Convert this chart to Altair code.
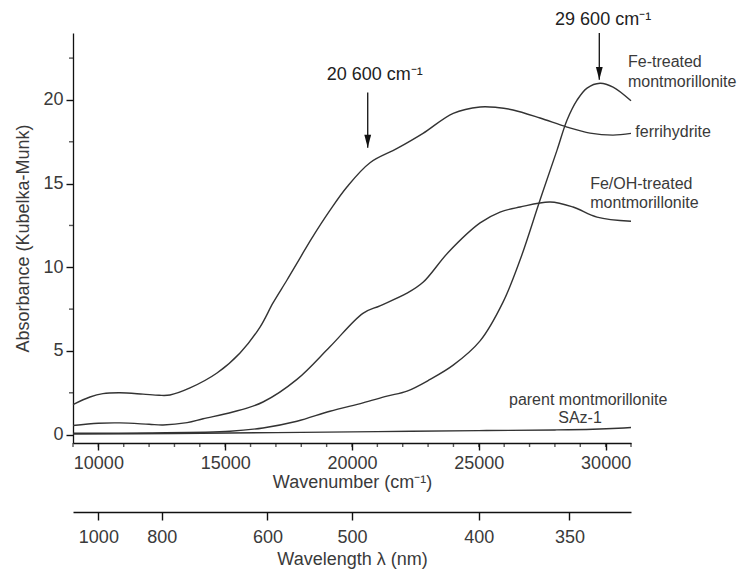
import altair as alt
import pandas as pd

# ---------------- data ----------------
ferri_wn = [9000, 9670, 10180, 10850, 11760, 12400, 12825, 13613, 14678, 15585, 16374, 16886,
            17438, 17950, 18400, 19130, 19800, 20710, 21780, 22800, 23990, 25050, 25720, 26350,
            27414, 28479, 29385, 30293, 31000]
ferri_abs = [1.8, 2.25, 2.45, 2.5, 2.42, 2.35, 2.37, 2.79, 3.68, 4.88, 6.43, 7.87,
             9.24, 10.55, 11.7, 13.4, 14.8, 16.25, 17.1, 18.0, 19.2, 19.58, 19.55, 19.4,
             18.92, 18.38, 18.02, 17.9, 18.0]

feoh_wn = [9000, 10000, 10850, 12000, 12550, 13500, 14130, 15300, 16490, 17830, 19130, 20430,
           21100, 22170, 22800, 23800, 25050, 25836, 26625, 27808, 28715, 29661, 31000]
feoh_abs = [0.55, 0.68, 0.7, 0.62, 0.58, 0.72, 0.95, 1.35, 1.95, 3.3, 5.25, 7.25,
            7.7, 8.45, 9.1, 10.9, 12.65, 13.3, 13.6, 13.9, 13.6, 13.0, 12.75]

fe_wn = [9000, 12000, 15190, 16490, 17830, 19130, 20430, 21380, 22170, 23080, 23990, 25050,
         25950, 26625, 27414, 28084, 28479, 28873, 29267, 29780, 30293, 31000]
fe_abs = [0.08, 0.1, 0.2, 0.4, 0.8, 1.4, 1.9, 2.3, 2.6, 3.3, 4.15, 5.6,
          7.9, 10.43, 14.02, 17.0, 18.8, 19.99, 20.71, 21.0, 20.77, 19.95]

parent_wn = [9000, 13000, 17000, 21000, 25000, 28000, 29500, 30500, 31000]
parent_abs = [0.03, 0.07, 0.12, 0.18, 0.24, 0.28, 0.32, 0.38, 0.43]

series_names = ["ferrihydrite", "Fe/OH-treated montmorillonite",
                "Fe-treated montmorillonite", "parent montmorillonite SAz-1"]

# axis ticks
x_major = [10000, 15000, 20000, 25000, 30000]
x_minor = list(range(9000, 31001, 1000))
y_major = [0, 5, 10, 15, 20]
y_minor = [2.5, 7.5, 12.5, 17.5, 22.5]

# wavelength axis labels (nm)
wavelengths_nm = [1000, 800, 600, 500, 400, 350]

# annotation arrows (wavenumber, top, tip)
arrow_x = [20620, 29750]
arrow_top = [20.45, 24.0]
arrow_tip = [17.15, 21.2]

# annotation texts
left_text = ["Fe-treated", "montmorillonite", "ferrihydrite", "Fe/OH-treated", "montmorillonite"]
left_x = [30880, 30880, 31170, 29390, 29390]
left_y = [22.27, 21.07, 18.08, 14.98, 13.84]

center_text = ["parent montmorillonite", "SAz-1"]
center_x = [29310, 28990]
center_y = [2.07, 0.99]

peak_text = ["20 600 cm\u207b\u00b9", "29 600 cm\u207b\u00b9"]
peak_x = [20900, 29900]
peak_y = [21.5, 24.78]

# ---------------- build tables ----------------
rows = []
for name, wn, ab in zip(series_names, [ferri_wn, feoh_wn, fe_wn, parent_wn],
                        [ferri_abs, feoh_abs, fe_abs, parent_abs]):
    for w, a in zip(wn, ab):
        rows.append({"series": name, "wn": w, "abs": a})
df = pd.DataFrame(rows)

arrows_df = pd.DataFrame({"x": arrow_x, "y": arrow_top, "y2": arrow_tip})
left_df = pd.DataFrame({"x": left_x, "y": left_y, "t": left_text})
center_df = pd.DataFrame({"x": center_x, "y": center_y, "t": center_text})
peak_df = pd.DataFrame({"x": peak_x, "y": peak_y, "t": peak_text})
wl_df = pd.DataFrame({"pos": [1e7 / l for l in wavelengths_nm]})
xminor_df = pd.DataFrame({"v": x_minor, "y0": [-0.5] * len(x_minor)})
yminor_df = pd.DataFrame({"v": y_minor, "x0": [9000] * len(y_minor)})

FONT = "Liberation Sans"
INK = "#333333"
TXT = "#3a3a3a"
AX = "#111111"
W, H = 558, 410

x_scale = alt.Scale(domain=[9000, 31000], nice=False, zero=False)
y_scale = alt.Scale(domain=[-0.5, 24], nice=False, zero=False)

common = dict(grid=False, labelOverlap=False, labelFlush=False,
              domainColor=AX, tickColor=AX, domainWidth=1.3, tickWidth=1.4,
              labelFont=FONT, labelFontSize=18, labelColor=TXT,
              titleFont=FONT, titleFontSize=18, titleFontWeight="normal", titleColor=TXT)

x_axis = alt.Axis(orient="bottom", values=x_major, format="d", tickSize=7,
                  title="Wavenumber (cm\u207b\u00b9)", labelPadding=4, titlePadding=1, **common)
y_axis = alt.Axis(orient="left", values=y_major, format="d", tickSize=7,
                  title="Absorbance (Kubelka-Munk)", labelPadding=3, titlePadding=10, **common)
wl_axis = alt.Axis(orient="bottom", offset=69, values=[1e7 / l for l in wavelengths_nm],
                   title="Wavelength \u03bb (nm)",
                   labelExpr="format(round(1e7 / datum.value), 'd')",
                   tickSize=8, labelPadding=8, titlePadding=4, **common)

lines = alt.Chart(df).mark_line(interpolate="catmull-rom", color=INK, strokeWidth=1.4).encode(
    x=alt.X("wn:Q", scale=x_scale, axis=x_axis),
    y=alt.Y("abs:Q", scale=y_scale, axis=y_axis),
    detail="series:N",
)

wl_layer = alt.Chart(wl_df).mark_point(opacity=0).encode(
    x=alt.X("pos:Q", scale=x_scale, axis=wl_axis),
    y=alt.value(0),
)

# minor ticks: short tick marks sitting just outside the axis lines
xminor_layer = alt.Chart(xminor_df).mark_tick(
    color=AX, thickness=1.4, size=4, orient="vertical", yOffset=2
).encode(
    x=alt.X("v:Q", scale=x_scale, axis=None),
    y=alt.Y("y0:Q", scale=y_scale, axis=None),
)
yminor_layer = alt.Chart(yminor_df).mark_tick(
    color=AX, thickness=1.4, size=4, orient="horizontal", xOffset=-2
).encode(
    y=alt.Y("v:Q", scale=y_scale, axis=None),
    x=alt.X("x0:Q", scale=x_scale, axis=None),
)

arrow_rules = alt.Chart(arrows_df).mark_rule(color=AX, strokeWidth=1.3).encode(
    x=alt.X("x:Q", scale=x_scale, axis=None),
    y=alt.Y("y:Q", scale=y_scale, axis=None),
    y2="y2:Q",
)
arrow_heads = alt.Chart(arrows_df).mark_point(
    shape="M -0.38 -1.45 L 0.38 -1.45 L 0 0 Z", filled=True, color=AX, opacity=1, size=320
).encode(
    x=alt.X("x:Q", scale=x_scale, axis=None),
    y=alt.Y("y2:Q", scale=y_scale, axis=None),
)

left_txt = alt.Chart(left_df).mark_text(
    align="left", baseline="middle", font=FONT, fontSize=16, color=TXT
).encode(
    x=alt.X("x:Q", scale=x_scale, axis=None),
    y=alt.Y("y:Q", scale=y_scale, axis=None),
    text="t:N",
)
center_txt = alt.Chart(center_df).mark_text(
    align="center", baseline="middle", font=FONT, fontSize=16, color=TXT
).encode(
    x=alt.X("x:Q", scale=x_scale, axis=None),
    y=alt.Y("y:Q", scale=y_scale, axis=None),
    text="t:N",
)
peak_txt = alt.Chart(peak_df).mark_text(
    align="center", baseline="middle", font=FONT, fontSize=18, color="#222222"
).encode(
    x=alt.X("x:Q", scale=x_scale, axis=None),
    y=alt.Y("y:Q", scale=y_scale, axis=None),
    text="t:N",
)

chart = alt.layer(
    lines, wl_layer, xminor_layer, yminor_layer, arrow_rules, arrow_heads,
    left_txt, center_txt, peak_txt
).resolve_axis(
    x="independent", y="independent"
).properties(
    width=W, height=H,
    autosize=alt.AutoSizeParams(type="none"),
    padding={"left": 73, "top": 33, "right": 109, "bottom": 127},
    background="white",
).configure_view(stroke=None)

chart.save("out.html", embed_options={"renderer": "svg", "actions": False})
